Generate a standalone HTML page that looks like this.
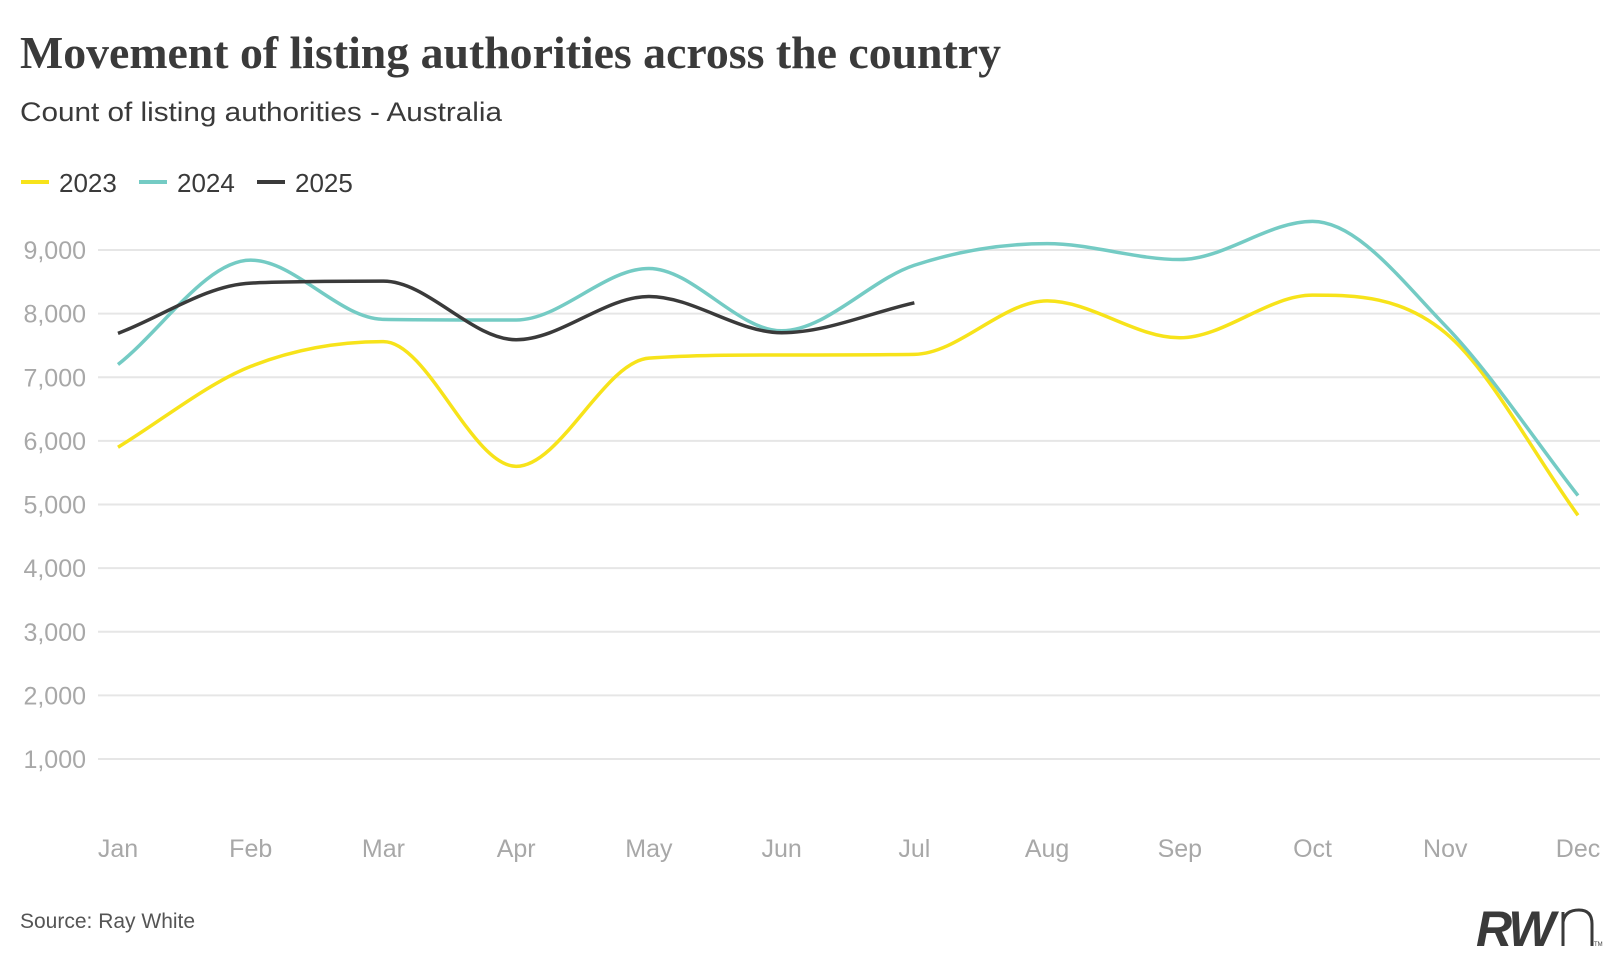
<!DOCTYPE html>
<html><head><meta charset="utf-8"><style>
body{margin:0;background:#fff;width:1620px;height:966px;overflow:hidden;font-family:"Liberation Sans",sans-serif}
svg{display:block}
</style></head><body>
<svg width="1620" height="966">
<text x="20" y="68" font-family="'Liberation Serif',serif" font-weight="bold" font-size="46" fill="#3a3a3a" textLength="981" lengthAdjust="spacingAndGlyphs">Movement of listing authorities across the country</text>
<text x="20" y="121" font-size="27" fill="#3a3a3a" textLength="482" lengthAdjust="spacingAndGlyphs">Count of listing authorities - Australia</text>
<g id="legend"></g>
<g id="grid"></g>
<g id="yt"></g>
<g id="xt"></g>
<g id="lines"></g>
<text x="20" y="928" font-size="21" fill="#555">Source: Ray White</text>
<g>
<text x="1476" y="946" font-size="50" font-weight="bold" font-style="italic" fill="#3a3a3a" letter-spacing="-3">RW</text>
<path d="M1563 946 V912 M1563 922 Q1565 910 1579 910 Q1592 910 1592 924 V946" stroke="#3a3a3a" stroke-width="3" fill="none"/>
<text x="1594" y="946" font-size="6" fill="#3a3a3a">TM</text>
</g>
</svg>
<script>
const months=["Jan","Feb","Mar","Apr","May","Jun","Jul","Aug","Sep","Oct","Nov","Dec"];
const yTicks=[1000,2000,3000,4000,5000,6000,7000,8000,9000];
const s2023=[5900,7170,7560,5600,7300,7350,7360,8200,7620,8290,7700,4830];
const s2024=[7200,8840,7910,7900,8710,7730,8760,9100,8850,9450,7810,5140];
const s2025=[7690,8480,8510,7590,8270,7700,8170];
const NS="http://www.w3.org/2000/svg";
const x=i=>118+i*(1578-118)/11;
const y=v=>759-(v-1000)*(759-250)/8000;
function mk(t,a,p){const e=document.createElementNS(NS,t);for(const k in a)e.setAttribute(k,a[k]);p.appendChild(e);return e;}
const grid=document.getElementById('grid'),yt=document.getElementById('yt'),xt=document.getElementById('xt'),lines=document.getElementById('lines'),leg=document.getElementById('legend');
yTicks.forEach(v=>{
 const l=mk('line',{x1:98,x2:1600,y1:y(v),y2:y(v),stroke:'#e6e6e6','stroke-width':2},grid);
 
 
 const t=mk('text',{x:86,y:y(v)+9,'text-anchor':'end','font-size':25,fill:'#a8a8a8'},yt);
 t.textContent=v.toLocaleString('en-US');
 
 
});
months.forEach((m,i)=>{
 const t=mk('text',{x:x(i),y:857,'text-anchor':'middle','font-size':25,fill:'#a8a8a8'},xt);
 t.textContent=m;
 
 
});
function mono(vals){
 const P=vals.map((v,i)=>[x(i),y(v)]),n=P.length;
 const d=[],m=[];
 for(let i=0;i<n-1;i++)d.push((P[i+1][1]-P[i][1])/(P[i+1][0]-P[i][0]));
 for(let i=0;i<n;i++){
  if(i==0)m.push(d[0]);else if(i==n-1)m.push(d[n-2]);
  else m.push(d[i-1]*d[i]<=0?0:(d[i-1]+d[i])/2);
 }
 for(let i=0;i<n-1;i++){if(d[i]==0){m[i]=0;m[i+1]=0;continue;}
  const a=m[i]/d[i],b=m[i+1]/d[i],s=a*a+b*b;if(s>9){const t=3/Math.sqrt(s);m[i]=t*a*d[i];m[i+1]=t*b*d[i];}}
 let p='M'+P[0][0]+' '+P[0][1];
 for(let i=0;i<n-1;i++){const h=(P[i+1][0]-P[i][0])/3;
  p+=` C${P[i][0]+h} ${P[i][1]+m[i]*h} ${P[i+1][0]-h} ${P[i+1][1]-m[i+1]*h} ${P[i+1][0]} ${P[i+1][1]}`;}
 return p;
}
const series=[["2023",s2023,"#f7e31a"],["2024",s2024,"#74cbc4"],["2025",s2025,"#3a3a3a"]];
const lx=[21,139,257];
series.forEach(([name,vals,c],k)=>{
 const p=mk('path',{d:mono(vals),fill:'none',stroke:c,'stroke-width':3.5},lines);
 
 
 const g=mk('g',{},leg);
 
 
 mk('line',{x1:lx[k],x2:lx[k]+28,y1:182,y2:182,stroke:c,'stroke-width':4},g);
 const t=mk('text',{x:lx[k]+38,y:192,'font-size':26,fill:'#3a3a3a'},g);t.textContent=name;
});
</script>
</body></html>
